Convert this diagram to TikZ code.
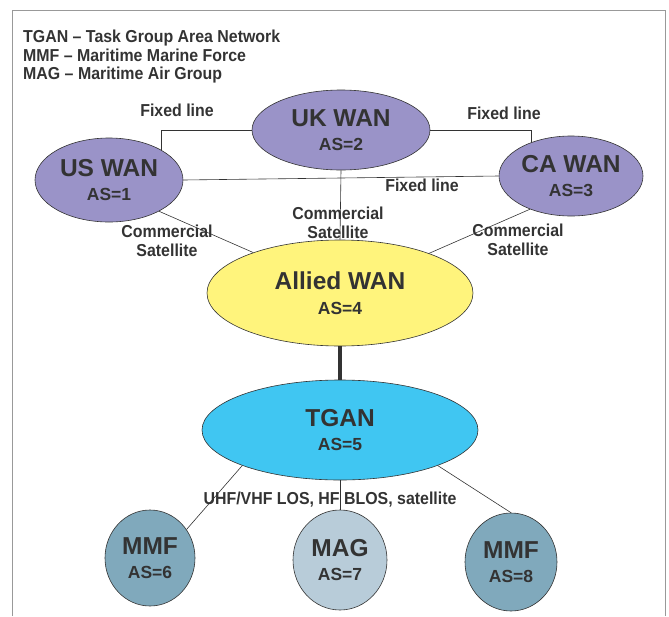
\documentclass[tikz,border=0pt]{standalone}
\usepackage{fontspec}
\setmainfont{Liberation Sans}
\newfontfamily\narrowsans{Liberation Sans}[FakeStretch=0.92]
\usetikzlibrary{shapes.geometric}
\definecolor{txt}{HTML}{333333}
\definecolor{purp}{HTML}{9A93C8}
\definecolor{yel}{HTML}{FFF47C}
\definecolor{cyanb}{HTML}{40C6F2}
\definecolor{mmfc}{HTML}{80A9BC}
\definecolor{magc}{HTML}{B8CCD9}
\newcommand{\nettext}[2]{#1\\{\fontsize{17.5}{19}\selectfont #2}}
\begin{document}
\begin{tikzpicture}[x=1pt,y=-1pt,
  net/.style={ellipse,draw=txt,line width=0.6pt,inner sep=0pt,align=center,text=txt,font=\bfseries\fontsize{24.5}{24.5}\selectfont},
  lbl/.style={text=txt,font=\narrowsans\bfseries\fontsize{17.3}{18.5}\selectfont,align=center,inner sep=1pt},
  legend/.style={anchor=base west,text=txt,font=\narrowsans\bfseries\fontsize{17.3}{18.5}\selectfont,inner sep=0pt},
  link/.style={draw=txt,line width=0.6pt}]
\useasboundingbox (0,0) rectangle (669,616);
\draw[gray!80,line width=0.8pt] (12,616) -- (12,10) -- (665,10) -- (665,616);
\node[legend] (leg1) at (23,42.5) {TGAN – Task Group Area Network};
\node[legend] (leg2) at (23,61) {MMF – Maritime Marine Force};
\node[legend] (leg3) at (23,79.5) {MAG – Maritime Air Group};
\node[net,fill=purp,minimum width=178pt,minimum height=80pt] (uk) at (341,130) {\nettext{UK WAN}{AS=2}};
\node[net,fill=purp,minimum width=148pt,minimum height=84pt] (us) at (109,180) {\nettext{US WAN}{AS=1}};
\node[net,fill=purp,minimum width=144pt,minimum height=80pt] (ca) at (571,176) {\nettext{CA WAN}{AS=3}};
\node[net,fill=yel,minimum width=266pt,minimum height=106pt] (allied) at (340,293) {\nettext{Allied WAN}{AS=4}};
\node[net,fill=cyanb,minimum width=276pt,minimum height=100pt] (tgan) at (340,430) {\nettext{TGAN}{AS=5}};
\node[net,fill=mmfc,minimum width=90pt,minimum height=96pt] (mmf1) at (150,558) {\nettext{MMF}{AS=6}};
\node[net,fill=magc,minimum width=94pt,minimum height=100pt] (mag) at (340,560) {\nettext{MAG}{AS=7}};
\node[net,fill=mmfc,minimum width=92pt,minimum height=98pt] (mmf2) at (511,562) {\nettext{MMF}{AS=8}};
\path[link] (uk.west) -| (us.north east);
\path[link] (uk.east) -| (ca.140);
\path[link] (us.east) -- (ca.west);
\path[link] (uk.south) -- (allied.north);
\path[link] (us.-32) -- (allied.155);
\path[link] (ca.219) -- (allied.24);
\draw[txt,line width=4pt] (allied.south) -- (tgan.north);
\path[link] (tgan.200) -- (mmf1.38);
\path[link] (tgan.south) -- (mag.north);
\path[link] (tgan.-20) -- (mmf2.north);
\node[lbl] (f1) at (177,110) {Fixed line};
\node[lbl] (f2) at (504,113) {Fixed line};
\node[lbl] (f3) at (422,185) {Fixed line};
\node[lbl] (c1) at (167,241) {Commercial\\Satellite};
\node[lbl] (c2) at (338,223) {Commercial\\Satellite};
\node[lbl] (c3) at (518,240) {Commercial\\Satellite};
\node[lbl] (u1) at (330,500) {UHF/VHF LOS, HF BLOS, satellite};
\end{tikzpicture}
\end{document}
